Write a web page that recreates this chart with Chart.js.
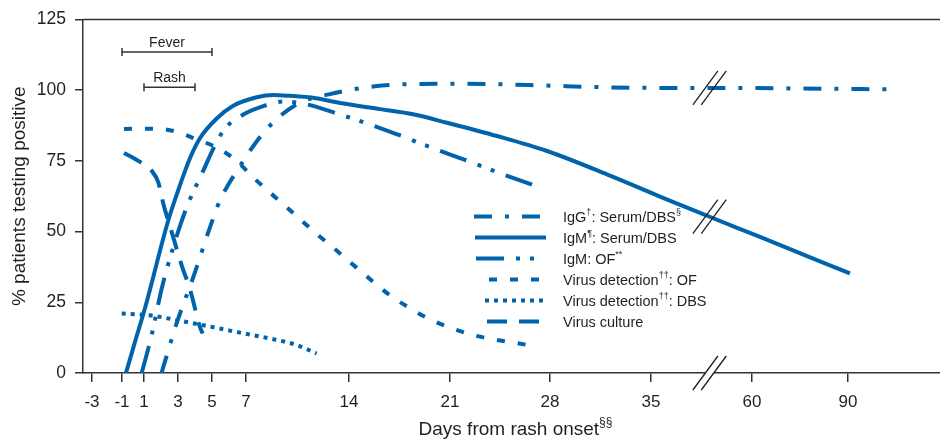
<!DOCTYPE html>
<html>
<head>
<meta charset="utf-8">
<script src="https://cdn.jsdelivr.net/npm/chart.js@4.4.1/dist/chart.umd.min.js"></script>
<style>
    html, body { margin: 0; padding: 0; background: #fff; }
    #wrap { width: 940px; height: 439px; }
</style>
</head>
<body>
<div id="wrap"><canvas id="chart" width="940" height="439"></canvas></div>
<script>
// x axis is broken and not uniform: tick days and where each tick sits (axis units, day -3 = 0)
const tickDays  = [-3, -1, 1, 3, 5, 7, 14, 21, 28, 35, 60, 90];
const tickSlots = [0, 30, 52, 86, 120, 154, 257, 358, 458, 559, 660, 756];
const breakDay  = 49.5;

// series: days from rash onset / % positive
const iggSerumDays = [2.03, 2.92, 3.9, 4.88, 5.47, 6.65, 8.29, 10.44, 12.7, 15.8, 18.7, 21.9, 26.6, 32.2, 40, 55, 75, 104];
const iggSerumPct  = [0, 17.6, 33.9, 51.5, 61, 73.2, 85.6, 95, 98.6, 101.4, 102.2, 102.3, 101.8, 101, 100.8, 100.8, 100.6, 100.3];

const igmSerumDays = [-0.64, 0.18, 1.06, 2.43, 2.92, 3.71, 4.29, 5.28, 6.25, 7.73, 8.86, 10, 11.55, 13.39, 16.15, 18.44, 20.79, 24.29, 27.79, 32.16, 37.2, 48.9, 62.5, 90.6];
const igmSerumPct  = [0, 11, 23, 54, 63, 76, 83, 90, 94.5, 97.5, 98.3, 98, 97.3, 95.5, 93.3, 91.5, 88.5, 83.8, 78.5, 69.8, 62.4, 55.6, 48.1, 35.2];

const igmOfDays = [0.79, 1.45, 2.04, 2.72, 3.51, 4.29, 5.66, 6.84, 8.18, 9.6, 11.13, 13.39, 15.46, 17.65, 19.61, 22.87, 24.85, 26.95];
const igmOfPct  = [0, 13.4, 29.8, 44.5, 58.6, 69, 85.6, 91.4, 94.4, 96, 95, 91.4, 87.9, 83.8, 79.9, 73.8, 70, 66.2];

const virusOfDays = [-0.82, 1.75, 2.92, 4.1, 5.28, 6.45, 7.5, 8.63, 9.77, 10.9, 12.03, 13.16, 14.42, 15.57, 16.83, 18.1, 19.48, 20.88, 22.4, 24.03, 25.55, 27.07];
const virusOfPct  = [86.3, 86.4, 85.3, 82.6, 79.7, 75, 69.1, 63.8, 58.6, 53.3, 48.2, 43.3, 37.7, 32.7, 27.5, 23.3, 19.3, 16.3, 13.7, 11.9, 10.7, 9.3];

const virusDbsDays = [-1.02, 1.35, 2.92, 4.49, 6.45, 8.63, 10.44, 11.8];
const virusDbsPct  = [21, 20.4, 18.7, 16.9, 14.5, 12.2, 9.9, 6.9];

const cultureDays = [-0.82, 0.48, 1.45, 1.84, 2.14, 2.63, 3.22, 3.71, 4.29, 4.45];
const culturePct  = [77.8, 75, 71.5, 67.4, 59.8, 49.8, 38, 29.5, 16.3, 14];

// labels, ^...^ marks a superscript
const seriesLabels = [
    'IgG^†^: Serum/DBS^§^',
    'IgM^¶^: Serum/DBS',
    'IgM: OF^**^',
    'Virus detection^††^: OF',
    'Virus detection^††^: DBS',
    'Virus culture'
];
const feverDays = [-1, 5];
const rashDays  = [1, 4];
const feverLevel = 113.5;
const rashLevel  = 101;

const FONT  = "'Liberation Sans', Arial, Helvetica, sans-serif";
const BLUE  = '#0063ac';
const INK   = '#231f20';
const AXIS  = '#333333';

function toAxis(d) {
    let i = 0;
    while (i < tickDays.length - 2 && d > tickDays[i + 1]) i++;
    const d0 = tickDays[i], d1 = tickDays[i + 1];
    const s0 = tickSlots[i], s1 = tickSlots[i + 1];
    return s0 + (d - d0) * (s1 - s0) / (d1 - d0);
}

function points(days, pct) {
    return days.map((d, i) => ({ x: toAxis(d), y: pct[i] }));
}

function series(label, days, pct, dash) {
    return {
        label,
        data:             points(days, pct),
        borderColor:      BLUE,
        borderWidth:      4,
        borderDash:       dash,
        borderCapStyle:   'butt',
        pointRadius:      0,
        fill:             false,
        cubicInterpolationMode: 'monotone',
    };
}

function drawRich(ctx, text, x, y, size, measureOnly) {
    const parts = text.split('^');
    let cx = x;
    parts.forEach((p, i) => {
        const sup = i % 2 === 1;
        ctx.font = `${sup ? Math.round(size * 0.64) : size}px ${FONT}`;
        if (!measureOnly) ctx.fillText(p, cx, sup ? y - size * 0.36 : y);
        cx += ctx.measureText(p).width;
    });
    return cx - x;
}

function lineYAt(meta, px) {
    const pts = meta.data;
    for (let i = 0; i < pts.length - 1; i++) {
        if (pts[i].x <= px && px <= pts[i + 1].x) {
            const t = (px - pts[i].x) / (pts[i + 1].x - pts[i].x);
            return pts[i].y + t * (pts[i + 1].y - pts[i].y);
        }
    }
    return null;
}

function drawBreak(ctx, cx, cy, cut) {
    const hw = 12.5, hh = 17, off = 4.2;
    if (cut) {
        ctx.fillStyle = '#fff';
        ctx.beginPath();
        ctx.moveTo(cx - off - hw, cy + hh);
        ctx.lineTo(cx - off + hw, cy - hh);
        ctx.lineTo(cx + off + hw, cy - hh);
        ctx.lineTo(cx + off - hw, cy + hh);
        ctx.closePath();
        ctx.fill();
    }
    ctx.strokeStyle = INK;
    ctx.lineWidth = 1.3;
    ctx.setLineDash([]);
    [-off, off].forEach(o => {
        ctx.beginPath();
        ctx.moveTo(cx + o - hw, cy + hh);
        ctx.lineTo(cx + o + hw, cy - hh);
        ctx.stroke();
    });
}

function drawRange(ctx, x0, x1, yy, label) {
    ctx.strokeStyle = AXIS;
    ctx.lineWidth = 1.5;
    ctx.setLineDash([]);
    ctx.beginPath();
    ctx.moveTo(x0, yy); ctx.lineTo(x1, yy);
    ctx.moveTo(x0, yy - 4); ctx.lineTo(x0, yy + 4);
    ctx.moveTo(x1, yy - 4); ctx.lineTo(x1, yy + 4);
    ctx.stroke();
    ctx.fillStyle = INK;
    ctx.font = `14px ${FONT}`;
    ctx.textAlign = 'center';
    ctx.textBaseline = 'middle';
    ctx.fillText(label, (x0 + x1) / 2, yy - 9);
}

// legend rows: sample start offset, row offsets from chart top
const legendRows = [
    { start: 0,  y: 197 },
    { start: 1,  y: 218 },
    { start: 2,  y: 239 },
    { start: 15, y: 260 },
    { start: 11, y: 281 },
    { start: 13, y: 302 },
];

const decorations = {
    id: 'decorations',
    afterDatasetsDraw(chart) {
        const { ctx, chartArea: area, scales: { x, y } } = chart;
        ctx.save();

        // top frame line
        ctx.strokeStyle = AXIS;
        ctx.lineWidth = 1.5;
        ctx.beginPath();
        ctx.moveTo(area.left, area.top);
        ctx.lineTo(chart.width, area.top);
        ctx.stroke();

        // axis breaks
        const bx = x.getPixelForValue(toAxis(breakDay));
        drawBreak(ctx, bx, area.bottom, true);
        [0, 1].forEach(i => {
            const by = lineYAt(chart.getDatasetMeta(i), bx);
            if (by !== null) drawBreak(ctx, bx, by, false);
        });

        // fever / rash ranges
        drawRange(ctx, x.getPixelForValue(toAxis(feverDays[0])), x.getPixelForValue(toAxis(feverDays[1])),
                  y.getPixelForValue(feverLevel), 'Fever');
        drawRange(ctx, x.getPixelForValue(toAxis(rashDays[0])), x.getPixelForValue(toAxis(rashDays[1])),
                  y.getPixelForValue(rashLevel), 'Rash');

        // legend
        const lx0 = area.left + 391, lx1 = area.left + 463, tx = area.left + 480;
        chart.data.datasets.forEach((ds, i) => {
            const row = legendRows[i];
            const ry = area.top + row.y;
            ctx.strokeStyle = ds.borderColor;
            ctx.lineWidth = 4;
            ctx.lineCap = 'butt';
            ctx.setLineDash(ds.borderDash || []);
            ctx.beginPath();
            ctx.moveTo(lx0 + row.start, ry);
            ctx.lineTo(lx1, ry);
            ctx.stroke();
            ctx.setLineDash([]);
            ctx.fillStyle = INK;
            ctx.textAlign = 'left';
            ctx.textBaseline = 'middle';
            drawRich(ctx, seriesLabels[i], tx, ry + 1, 14.5);
        });

        // x axis title
        const title = 'Days from rash onset^§§^';
        ctx.textAlign = 'left';
        ctx.textBaseline = 'middle';
        const w = drawRich(ctx, title, 0, 0, 19, true);
        drawRich(ctx, title, (area.left + area.right) / 2 + 4 - w / 2, area.bottom + 57, 19);

        ctx.restore();
    }
};

Chart.defaults.font.family = FONT;
Chart.defaults.color = INK;

new Chart(document.getElementById('chart'), {
    type: 'line',
    data: {
        datasets: [
            series(seriesLabels[0], iggSerumDays, iggSerumPct, [18, 13, 4, 13]),
            series(seriesLabels[1], igmSerumDays, igmSerumPct, []),
            series(seriesLabels[2], igmOfDays, igmOfPct, [28, 12, 4, 10, 4, 12]),
            series(seriesLabels[3], virusOfDays, virusOfPct, [8, 13]),
            series(seriesLabels[4], virusDbsDays, virusDbsPct, [4, 5]),
            series(seriesLabels[5], cultureDays, culturePct, [20, 12]),
        ]
    },
    options: {
        responsive: false,
        animation:  false,
        devicePixelRatio: 1,
        layout: { padding: { top: 18, right: 0, bottom: 0, left: 0 } },
        plugins: {
            legend:  { display: false },
            tooltip: { enabled: false },
        },
        scales: {
            x: {
                type: 'linear',
                bounds: 'data',
                min: -9,
                max: 848,
                afterBuildTicks: s => { s.ticks = tickSlots.map(v => ({ value: v })); },
                afterFit: s => { s.height = 66; },
                ticks: {
                    autoSkip: false,
                    maxRotation: 0,
                    padding: 10,
                    color: INK,
                    font: { size: 17 },
                    callback: (v, i) => tickDays[i],
                },
                grid:   { drawOnChartArea: false, drawTicks: true, tickLength: 9, color: AXIS, lineWidth: 1.5 },
                border: { display: true, color: AXIS, width: 1.5 },
            },
            y: {
                min: 0,
                max: 125,
                afterFit: s => { s.width = 83; },
                ticks: { stepSize: 25, padding: 9, color: INK, font: { size: 17.5 } },
                grid:   { drawOnChartArea: false, drawTicks: true, tickLength: 8, color: AXIS, lineWidth: 1.5 },
                border: { display: true, color: AXIS, width: 1.5 },
                title: {
                    display: true,
                    text: '% patients testing positive',
                    color: INK,
                    font: { size: 19 },
                    padding: { top: 8, bottom: 0 },
                },
            },
        },
    },
    plugins: [decorations],
});
</script>
</body>
</html>
